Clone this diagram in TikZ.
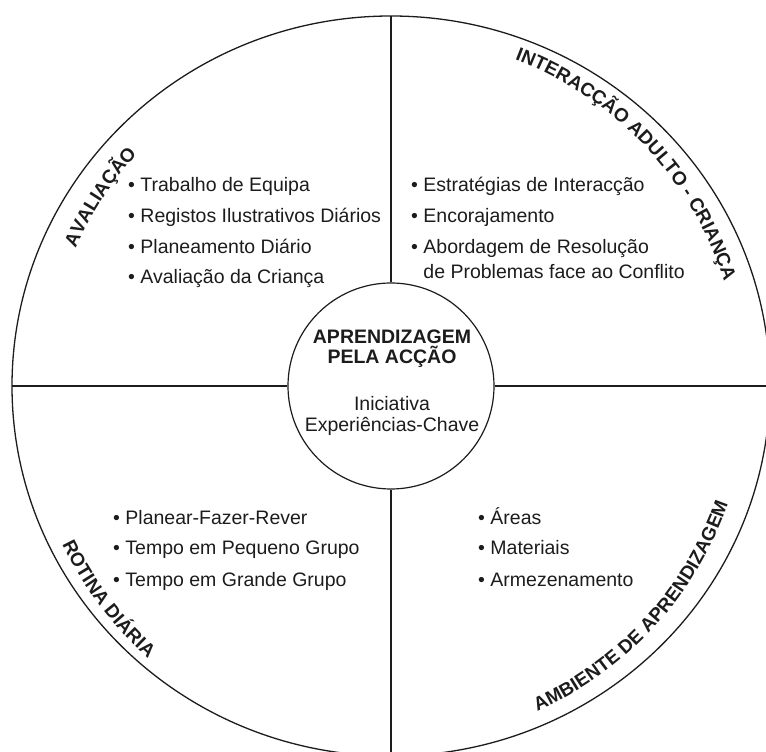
\documentclass[tikz,border=0pt]{standalone}
\usepackage{fontspec}
\setmainfont{Liberation Sans}
\usepackage{tikz}
\usetikzlibrary{decorations.text}
\definecolor{InkDark}{HTML}{1C1C1C}
\newcommand{\ringfont}{\bfseries\fontsize{19}{19}\selectfont}

\begin{document}
\begin{tikzpicture}[
  x=1pt, y=1pt,
  rim/.style={draw=InkDark, line width=1.3pt},
  hub/.style={circle, draw=InkDark, fill=white, line width=1.2pt, minimum size=206pt, inner sep=0pt},
  divider/.style={draw=InkDark, line width=1.2pt},
  point/.style={anchor=base west, inner sep=0pt, text=InkDark, align=left,
                font=\fontsize{19.5}{25}\selectfont},
  core/.style={anchor=base, inner sep=0pt, text=InkDark, font=\fontsize{19.5}{21}\selectfont},
  ring/.style={decorate, decoration={text along path, text align=center, text color=InkDark}},
]
  \useasboundingbox (0,0) rectangle (766,752);
  \clip (0,0) rectangle (766,752);

  % Wheel
  \coordinate (c) at (391,366);
  \coordinate (rimN) at (391,736);
  \coordinate (rimS) at (391,0);
  \coordinate (rimW) at (12,366);
  \coordinate (rimE) at (766,366);
  \draw[rim] (c) ellipse [x radius=379, y radius=370];
  \node[hub] (hub) at (c) {};

  % Dividers
  \draw[divider] (hub.north) -- (rimN);
  \draw[divider] (hub.south) -- (rimS);
  \draw[divider] (hub.west) -- (rimW);
  \draw[divider] (hub.east) -- (rimE);

  % Centre
  \node[core, font=\bfseries\fontsize{19.5}{21}\selectfont] (aprend) at (392,408) {APRENDIZAGEM};
  \node[core, font=\bfseries\fontsize{19.5}{21}\selectfont] (accao) at (392,388) {PELA ACÇÃO};
  \node[core] (inic) at (392,341) {Iniciativa};
  \node[core] (expch) at (392,320) {Experiências-Chave};

  % Quadrant labels
  \path[ring, decoration={text={|\ringfont|AVALIAÇÃO}}]
    (c) ++(180:344) arc[start angle=180, end angle=114, radius=344];
  \path[ring, decoration={text={|\ringfont|INTERACÇÃO ADULTO - CRIANÇA}}]
    (c) ++(95:349) arc[start angle=95, end angle=-8.4, radius=349];
  \path[ring, decoration={text={|\ringfont|ROTINA DIÁRIA}}]
    (c) ++(185:365) arc[start angle=185, end angle=249, radius=365];
  \path[ring, decoration={text={|\ringfont|AMBIENTE DE APRENDIZAGEM}}]
    (c) ++(-90:357) arc[start angle=-90, end angle=5, radius=357];

  % Avaliacao
  \node[point] (av1) at (128,560) {• Trabalho de Equipa};
  \node[point] (av2) at (128,529) {• Registos Ilustrativos Diários};
  \node[point] (av3) at (128,498) {• Planeamento Diário};
  \node[point] (av4) at (128,468) {• Avaliação da Criança};

  % Interaccao
  \node[point] (ia1) at (411,560) {• Estratégias de Interacção};
  \node[point] (ia2) at (411,529) {• Encorajamento};
  \node[point] (ia3) at (411,473) {• Abordagem de Resolução\\\phantom{• }de Problemas face ao Conflito};

  % Rotina
  \node[point] (rd1) at (113,227) {• Planear-Fazer-Rever};
  \node[point] (rd2) at (113,197) {• Tempo em Pequeno Grupo};
  \node[point] (rd3) at (113,165) {• Tempo em Grande Grupo};

  % Ambiente
  \node[point] (aa1) at (478,227) {• Áreas};
  \node[point] (aa2) at (478,197) {• Materiais};
  \node[point] (aa3) at (478,165) {• Armezenamento};
\end{tikzpicture}
\end{document}
